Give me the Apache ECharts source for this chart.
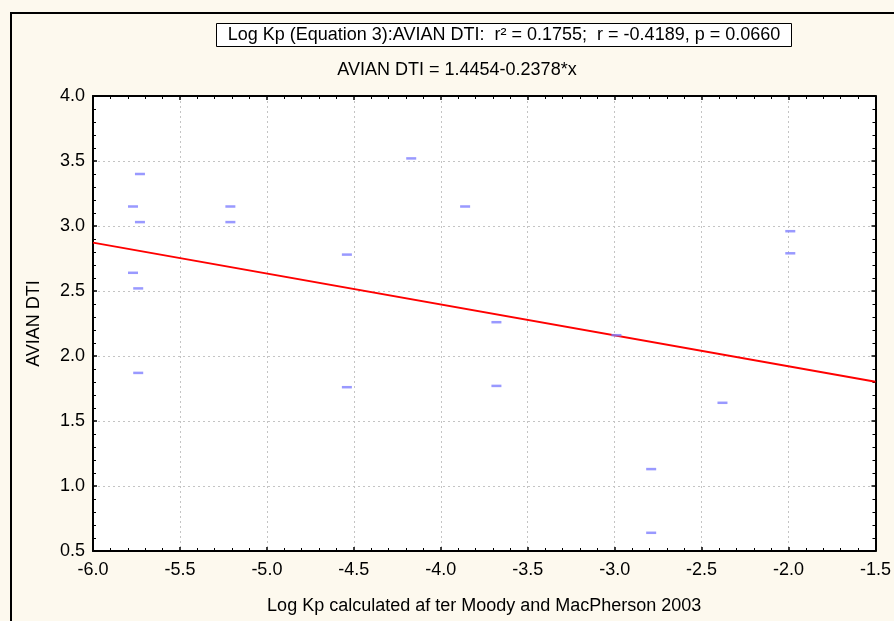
<!DOCTYPE html>
<html>
<head>
<meta charset="utf-8">
<script src="https://cdn.jsdelivr.net/npm/echarts@6/dist/echarts.min.js"></script>
<style>
html,body{margin:0;padding:0;background:#fdf9ee;}
#c{width:894px;height:621px;}
</style>
</head>
<body>
<div id="c"></div>
<script>
// Scatter data: Log Kp (x) vs AVIAN DTI (y)
var logKp = [-5.73, -5.77, -5.73, -5.77, -5.74, -5.74, -5.21, -5.21, -4.17, -3.86,
             -4.54, -4.54, -3.68, -3.68, -2.99, -2.38, -2.79, -2.79, -1.99, -1.99];
var avianDTI = [3.40, 3.15, 3.03, 2.64, 2.52, 1.87, 3.15, 3.03, 3.52, 3.15,
                2.78, 1.76, 2.26, 1.77, 2.16, 1.64, 1.13, 0.64, 2.96, 2.79];
// Regression line end points (AVIAN DTI = 1.4454-0.2378*x)
var fitX = [-6.0, -1.5];
var fitY = [2.872, 1.802];
// Axis tick values
var xTicks = [-6.0, -5.5, -5.0, -4.5, -4.0, -3.5, -3.0, -2.5, -2.0, -1.5];
var yTicks = [0.5, 1.0, 1.5, 2.0, 2.5, 3.0, 3.5, 4.0];

var titleText = 'Log Kp (Equation 3):AVIAN DTI:  r\u00B2 = 0.1755;  r = -0.4189, p = 0.0660';
var subText = 'AVIAN DTI = 1.4454-0.2378*x';
var xName = 'Log Kp calculated af ter Moody and MacPherson 2003';
var yName = 'AVIAN DTI';

var FONT = 'Liberation Sans, Arial, sans-serif';
var FS = 18;

var scatterData = logKp.map(function (x, i) { return [x, avianDTI[i]]; });
var lineData = fitX.map(function (x, i) { return [x, fitY[i]]; });

function fmt(v) { return v.toFixed(1); }

var chart = echarts.init(document.getElementById('c'), null, {renderer: 'canvas'});
var xMin = xTicks[0], xMax = xTicks[xTicks.length - 1];
var yMin = yTicks[0], yMax = yTicks[yTicks.length - 1];

function secondaryAxis(pos, min, max) {
  return {
    type: 'value', position: pos, min: min, max: max, interval: 0.5,
    axisLine: {show: true, lineStyle: {color: '#000', width: 2}},
    axisTick: {show: true, inside: true, length: 4, lineStyle: {color: '#000', width: 1.5}},
    minorTick: {show: true, splitNumber: 5, length: 3, lineStyle: {color: '#000', width: 1}},
    axisLabel: {show: false},
    splitLine: {show: false}
  };
}

chart.setOption({
  backgroundColor: '#fdf9ee',
  animation: false,
  title: [
    {
      text: titleText,
      left: 492, top: 23, textAlign: 'center',
      backgroundColor: '#ffffff', borderColor: '#000', borderWidth: 1,
      padding: [3, 12, 3, 12],
      textStyle: {fontFamily: FONT, fontSize: FS, fontWeight: 'normal', color: '#000'}
    },
    {
      text: subText,
      left: 457, top: 61, textAlign: 'center',
      padding: 0,
      textStyle: {fontFamily: FONT, fontSize: FS, fontWeight: 'normal', color: '#000'}
    }
  ],
  graphic: [{
    type: 'rect', silent: true, z: -1,
    shape: {x: 11, y: 13, width: 920, height: 640},
    style: {fill: 'none', stroke: '#000', lineWidth: 2}
  }],
  grid: {
    left: 93, right: 18, top: 96, bottom: 70,
    show: true, backgroundColor: '#ffffff', borderWidth: 0
  },
  xAxis: [{
    type: 'value', position: 'bottom', min: xMin, max: xMax, interval: 0.5,
    name: xName, nameLocation: 'middle', nameGap: 46,
    nameTextStyle: {fontFamily: FONT, fontSize: FS, color: '#000'},
    axisLine: {show: true, lineStyle: {color: '#000', width: 2}},
    axisTick: {show: true, inside: true, length: 4, lineStyle: {color: '#000', width: 1.5}},
    minorTick: {show: true, splitNumber: 5, length: 3, lineStyle: {color: '#000', width: 1}},
    axisLabel: {margin: 10, formatter: fmt, fontFamily: FONT, fontSize: FS, color: '#000'},
    splitLine: {show: true, lineStyle: {color: '#c4c4c4', type: [2, 3], width: 1}}
  }, secondaryAxis('top', xMin, xMax)],
  yAxis: [{
    type: 'value', position: 'left', min: yMin, max: yMax, interval: 0.5,
    name: yName, nameLocation: 'middle', nameGap: 50, nameRotate: 90,
    nameTextStyle: {fontFamily: FONT, fontSize: FS, color: '#000'},
    axisLine: {show: true, lineStyle: {color: '#000', width: 2}},
    axisTick: {show: true, inside: true, length: 4, lineStyle: {color: '#000', width: 1.5}},
    minorTick: {show: true, splitNumber: 5, length: 3, lineStyle: {color: '#000', width: 1}},
    axisLabel: {margin: 8, formatter: fmt, fontFamily: FONT, fontSize: FS, color: '#000'},
    splitLine: {show: true, lineStyle: {color: '#c4c4c4', type: [2, 3], width: 1}}
  }, secondaryAxis('right', yMin, yMax)],
  series: [
    {
      type: 'line', data: lineData, showSymbol: false, symbol: 'none',
      lineStyle: {color: '#ff0000', width: 2}, z: 3
    },
    {
      type: 'scatter', data: scatterData, symbol: 'rect', symbolSize: [10, 2.5],
      itemStyle: {color: '#7f7fff'}, z: 4
    }
  ]
});
</script>
</body>
</html>
